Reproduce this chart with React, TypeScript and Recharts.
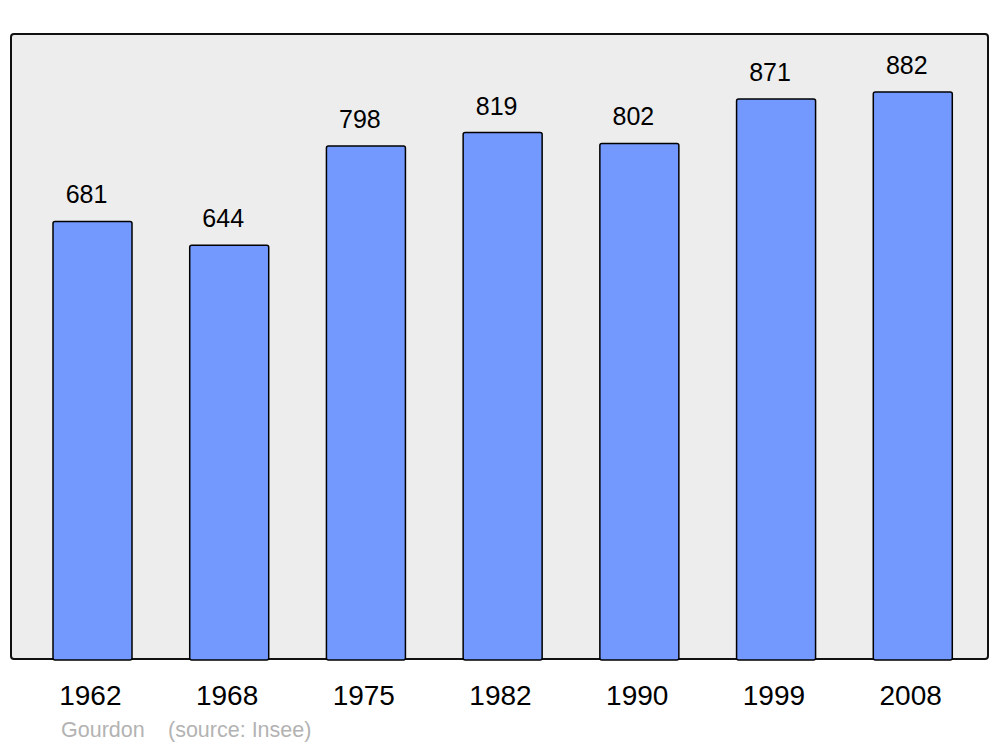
import React from "react";
import { BarChart, Bar, XAxis, YAxis, LabelList } from "recharts";

const years = ["1962", "1968", "1975", "1982", "1990", "1999", "2008"];
const population = [681, 644, 798, 819, 802, 871, 882];
const commune = "Gourdon";
const source = "(source: Insee)";

const data = years.map((year, i) => ({ year, population: population[i] }));

const font = "'Liberation Sans', Arial, sans-serif";

export default function App() {
  return (
    <div style={{ position: "absolute", left: 0, top: 0, width: 1000, height: 747, background: "#fff", fontFamily: font }}>
      {/* plot frame behind the svg */}
      <div
        style={{
          position: "absolute",
          left: 10,
          top: 33,
          width: 975,
          height: 623,
          border: "2.5px solid #111",
          borderRadius: 4,
          background: "#ededed",
        }}
      />
      <div style={{ position: "absolute", left: 0, top: 0 }}>
        <BarChart
          width={1000}
          height={747}
          data={data}
          margin={{ top: 34, right: 11, left: 11, bottom: 0 }}
        >
          <XAxis
            dataKey="year"
            padding={{ left: 13, right: 8 }}
            axisLine={false}
            tickLine={false}
            tickSize={0}
            tickMargin={25}
            height={87}
            tick={{ fontSize: 28, fill: "#000", fontFamily: font, dx: -2 }}
          />
          <YAxis hide domain={[0, 972]} />
          <Bar
            dataKey="population"
            barSize={79}
            fill="#7399ff"
            stroke="#000"
            strokeWidth={1.5}
            radius={2}
            isAnimationActive={false}
          >
            <LabelList
              dataKey="population"
              position="top"
              offset={18}
              dx={-6}
              fill="#000"
              fontSize={25}
              fontFamily={font}
            />
          </Bar>
        </BarChart>
      </div>
      <div style={{ position: "absolute", left: 61, top: 718, fontSize: 21.5, color: "#b3b3b3", whiteSpace: "pre" }}>
        {commune}
      </div>
      <div style={{ position: "absolute", left: 168, top: 718, fontSize: 21.5, color: "#b3b3b3", whiteSpace: "pre" }}>
        {source}
      </div>
    </div>
  );
}
